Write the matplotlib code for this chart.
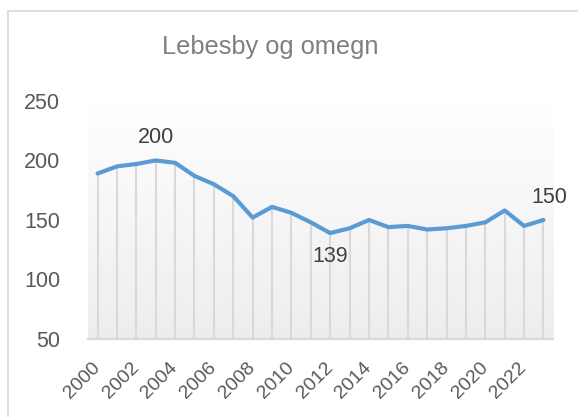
import numpy as np
import matplotlib.pyplot as plt
from matplotlib.patches import Rectangle

plt.rcParams['font.family'] = ['Liberation Sans', 'DejaVu Sans']

years = list(range(2000, 2024))
values = [189, 195, 197, 200, 198, 187, 180, 170, 152, 161, 156, 148,
          139, 143, 150, 144, 145, 142, 143, 145, 148, 158, 145, 150]
tick_years = years[::2]
labelled = {2003: 'above', 2012: 'below', 2023: 'above'}

fig = plt.figure(figsize=(5.78, 4.17), dpi=100)
ax = fig.add_axes([0.152, 0.187, 0.805, 0.571])

x = np.arange(len(years))

# gradient background of the plot area
grad = np.linspace(1.0, 0.0, 256).reshape(-1, 1)
top_c = np.array([1.0, 1.0, 1.0])
bot_c = np.array([0.93, 0.93, 0.93])
img = bot_c + (top_c - bot_c) * grad[..., None]
ax.imshow(img, extent=(-0.5, len(years) - 0.5, 50, 250), aspect='auto', zorder=0)

ax.vlines(x, 50, values, colors='#d9d9d9', lw=1.5, zorder=1)
ax.plot(x, values, color='#5b9bd5', lw=3.0, solid_capstyle='round',
        solid_joinstyle='round', zorder=3)

for yr, pos in labelled.items():
    i = years.index(yr)
    dy = 12 if pos == 'above' else -13
    va = 'bottom' if pos == 'above' else 'top'
    dx = 6 if yr == 2023 else 0
    ax.annotate(str(values[i]), (x[i], values[i]), xytext=(dx, dy),
                textcoords='offset pixels', ha='center', va=va,
                fontsize=15.5, color='#404040')

ax.set_xlim(-0.5, len(years) - 0.5)
ax.set_ylim(50, 250)
ax.set_yticks([50, 100, 150, 200, 250])
ax.set_xticks([years.index(y) for y in tick_years])
ax.set_xticklabels([str(y) for y in tick_years], rotation=45, ha='right',
                   rotation_mode='anchor', va='center')
ax.tick_params(axis='x', length=0, pad=19, labelsize=14, labelcolor='#595959')
ax.tick_params(axis='y', length=0, pad=20, labelsize=15.5, labelcolor='#595959')

for s in ['top', 'right', 'left']:
    ax.spines[s].set_visible(False)
ax.spines['bottom'].set_color('#d9d9d9')
ax.spines['bottom'].set_linewidth(1.6)
ax.spines['bottom'].set_zorder(4)

fig.text(0.467, 0.887, 'Lebesby og omegn', ha='center', va='center',
         fontsize=18.3, color='#7f7f7f')

# chart border (cut off at right and bottom in the original)
fig.patches.append(Rectangle((8 / 578, -0.1), 1.2, 1.1 - 11 / 417,
                             transform=fig.transFigure, fill=False,
                             edgecolor='#d9d9d9', lw=1.2))

fig.savefig('out.png', dpi=100)
